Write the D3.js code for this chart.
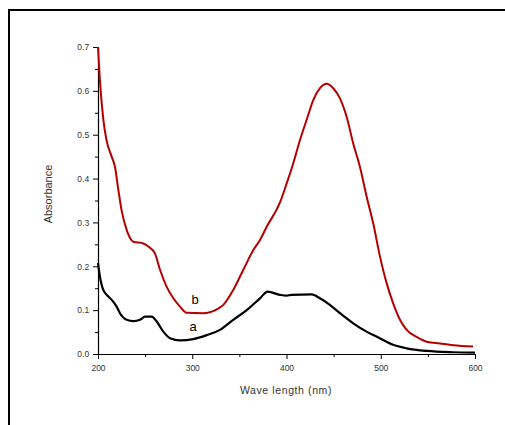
<!DOCTYPE html>
<html>
<head>
<meta charset="utf-8">
<script src="https://cdn.jsdelivr.net/npm/d3@7"></script>
<style>
  body { margin: 0; background: #fff; }
  text { font-family: Arial, "Liberation Sans", sans-serif; }
</style>
</head>
<body>
<script>
// wavelength (nm) / absorbance
var waveB = [200, 202, 205.7, 209, 214.5, 218, 221.6, 225, 230.4, 237.5, 248, 253.4, 260.5, 265.8, 272.9, 280, 287, 294, 311.7, 326, 333, 343.5, 354.2, 364.8, 371.9, 379, 393, 400.2, 407.2, 414.3, 421.4, 428.4, 435.5, 442.6, 449.6, 456.7, 463.8, 470.8, 477.9, 485, 492, 499.2, 506.3, 513.3, 520.4, 527.5, 538, 548.8, 562.9, 577, 598];
var absB  = [0.70, 0.625, 0.534, 0.488, 0.45, 0.427, 0.374, 0.328, 0.283, 0.256, 0.252, 0.245, 0.229, 0.192, 0.153, 0.127, 0.108, 0.094, 0.093, 0.102, 0.112, 0.146, 0.192, 0.237, 0.26, 0.29, 0.345, 0.389, 0.435, 0.488, 0.534, 0.579, 0.606, 0.616, 0.606, 0.583, 0.541, 0.48, 0.427, 0.359, 0.298, 0.222, 0.161, 0.115, 0.078, 0.055, 0.039, 0.028, 0.024, 0.02, 0.017];

var waveA = [200, 202, 205.6, 211, 216.3, 219.8, 223.3, 230.4, 237.5, 244.6, 249.9, 257, 262.3, 269.3, 276.4, 287, 301.1, 315.3, 329.4, 343.5, 357.8, 371.9, 380, 393, 400.2, 405, 426.7, 435.5, 446, 456.7, 470.8, 485, 499, 513, 527.5, 549, 577, 600];
var absA  = [0.207, 0.177, 0.146, 0.131, 0.119, 0.108, 0.093, 0.078, 0.075, 0.078, 0.085, 0.085, 0.074, 0.051, 0.036, 0.031, 0.034, 0.043, 0.055, 0.078, 0.1, 0.127, 0.142, 0.135, 0.133, 0.135, 0.136, 0.127, 0.112, 0.093, 0.07, 0.051, 0.036, 0.021, 0.013, 0.007, 0.004, 0.003];

var xTicks = [200, 300, 400, 500, 600];
var yTicks = [0, 0.1, 0.2, 0.3, 0.4, 0.5, 0.6, 0.7];

var W = 505, H = 425;
var svg = d3.select("body").append("svg")
    .attr("width", W)
    .attr("height", H);

// frame (only top and left edges show)
svg.append("rect")
    .attr("x", 9).attr("y", 10)
    .attr("width", 520).attr("height", 440)
    .attr("fill", "none")
    .attr("stroke", "#000")
    .attr("stroke-width", 2);

var x = d3.scaleLinear().domain([200, 600]).range([98, 475]);
var y = d3.scaleLinear().domain([0, 0.7]).range([354, 47]);

// minor ticks
var xAxisMinor = d3.axisBottom(x).tickValues(d3.range(250, 600, 100)).tickSize(3).tickFormat("");
var yAxisMinor = d3.axisLeft(y).tickValues(d3.range(0.05, 0.7, 0.1)).tickSize(3).tickFormat("");

svg.append("g").attr("transform", "translate(0,354)").call(xAxisMinor)
    .call(function(g) { g.select(".domain").remove(); });
svg.append("g").attr("transform", "translate(98,0)").call(yAxisMinor)
    .call(function(g) { g.select(".domain").remove(); });

var xAxis = svg.append("g")
    .attr("transform", "translate(0,354)")
    .call(d3.axisBottom(x).tickValues(xTicks).tickSize(5).tickSizeOuter(0).tickFormat(d3.format("d")));
var yAxis = svg.append("g")
    .attr("transform", "translate(98,0)")
    .call(d3.axisLeft(y).tickValues(yTicks).tickSize(5).tickSizeOuter(0).tickFormat(d3.format(".1f")));

[xAxis, yAxis].forEach(function(g) {
  g.selectAll("text").attr("font-size", 8.5).attr("fill", "#333")
    .style("font-family", "Arial, 'Liberation Sans', sans-serif");
  g.select(".domain").attr("stroke-width", 1.2);
});
xAxis.selectAll("text").attr("dy", "1.1em");
yAxis.selectAll("text").attr("dx", "-0.1em");

var line = d3.line()
    .curve(d3.curveMonotoneX) // smooth it
    .x(function(d) { return x(d[0]); })
    .y(function(d) { return y(d[1]); });

svg.append("path")
    .datum(d3.zip(waveA, absA))
    .attr("fill", "none")
    .attr("stroke", "#000")
    .attr("stroke-width", 2.2)
    .attr("d", line);

svg.append("path")
    .datum(d3.zip(waveB, absB))
    .attr("fill", "none")
    .attr("stroke", "#b30000")
    .attr("stroke-width", 2)
    .attr("d", line);

// curve labels
svg.append("text").attr("x", x(303)).attr("y", y(0.115))
    .attr("text-anchor", "middle").attr("font-size", 13).text("b");
svg.append("text").attr("x", x(301)).attr("y", y(0.052))
    .attr("text-anchor", "middle").attr("font-size", 13).text("a");

// axis titles
svg.append("text")
    .attr("x", 286).attr("y", 394)
    .attr("text-anchor", "middle")
    .attr("font-size", 10.5)
    .attr("fill", "#333")
    .style("letter-spacing", "0.6px")
    .text("Wave length (nm)");

svg.append("text")
    .attr("transform", "translate(52,194) rotate(-90)")
    .attr("text-anchor", "middle")
    .attr("font-size", 11)
    .attr("fill", "#333")
    .text("Absorbance");
</script>
</body>
</html>
